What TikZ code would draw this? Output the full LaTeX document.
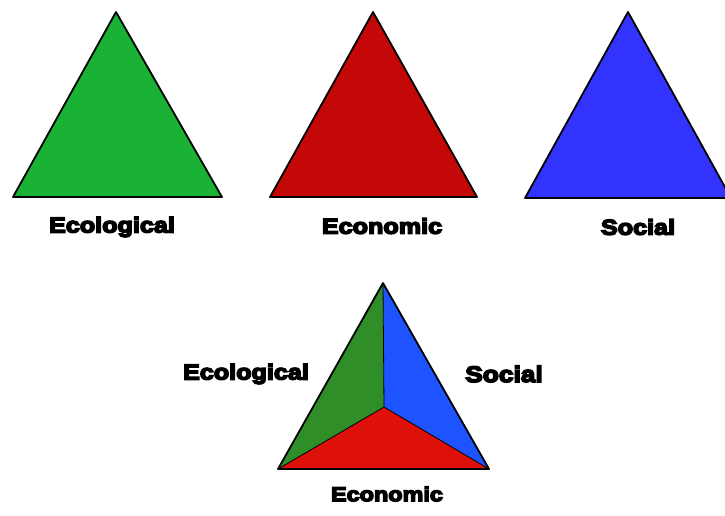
\documentclass[tikz,border=0pt]{standalone}
\usepackage{fontspec}
\newfontfamily\labelfont[FakeStretch=1.17,FakeBold=7]{Liberation Sans Bold}
\definecolor{ecoGreen}{RGB}{26,178,52}
\definecolor{ecoRed}{RGB}{196,8,8}
\definecolor{ecoBlue}{RGB}{51,51,255}
\definecolor{mixGreen}{RGB}{48,142,40}
\definecolor{mixRed}{RGB}{222,16,10}
\definecolor{mixBlue}{RGB}{30,84,255}
\tikzset{
  tri/.style={draw=black, line width=1.8pt, line join=round},
  facet/.style={draw=black, line width=0.8pt, line join=round},
  lbl/.style={font=\labelfont\fontsize{21.5}{24}\selectfont, inner sep=0pt, text=black}
}
\begin{document}
\begin{tikzpicture}[x=1pt,y=-1pt]
  \useasboundingbox (0,0) rectangle (725,515);
  \begin{scope}
    \clip (0,0) rectangle (725,515);
    % three separate pillars
    \coordinate (gA) at (116,12);  \coordinate (gL) at (13,197);  \coordinate (gR) at (222,197);
    \coordinate (rA) at (373,12);  \coordinate (rL) at (270,197); \coordinate (rR) at (477,197);
    \coordinate (bA) at (628,12);  \coordinate (bL) at (525,198); \coordinate (bR) at (731,198);
    \fill[ecoGreen] (gA) -- (gL) -- (gR) -- cycle;
    \draw[tri] (gA) -- (gL) -- (gR) -- cycle;
    \fill[ecoRed] (rA) -- (rL) -- (rR) -- cycle;
    \draw[tri] (rA) -- (rL) -- (rR) -- cycle;
    \fill[ecoBlue] (bA) -- (bL) -- (bR) -- cycle;
    \draw[tri] (bA) -- (bL) -- (bR) -- cycle;
  \end{scope}
  \node[lbl] (labEco) at (112,227) {Ecological};
  \node[lbl] (labEcon) at (382,226) {Economic};
  \node[lbl] (labSoc) at (638,227) {Social};

  % combined pyramid seen from above
  \coordinate (pA) at (383,283);
  \coordinate (pL) at (278,469);
  \coordinate (pR) at (489,469);
  \coordinate (pC) at (384,407);
  \fill[mixGreen] (pA) -- (pC) -- (pL) -- cycle;
  \fill[mixBlue] (pA) -- (pR) -- (pC) -- cycle;
  \fill[mixRed] (pL) -- (pC) -- (pR) -- cycle;
  \draw[facet] (pA) -- (pC) (pL) -- (pC) -- (pR);
  \draw[tri] (pA) -- (pL) -- (pR) -- cycle;
  \node[lbl] (mEco) at (246,374) {Ecological};
  \node[lbl, font=\labelfont\fontsize{22.5}{25}\selectfont] (mSoc) at (504,374) {Social};
  \node[lbl, font=\labelfont\fontsize{20}{22}\selectfont] (mEcon) at (387,494) {Economic};
\end{tikzpicture}
\end{document}
